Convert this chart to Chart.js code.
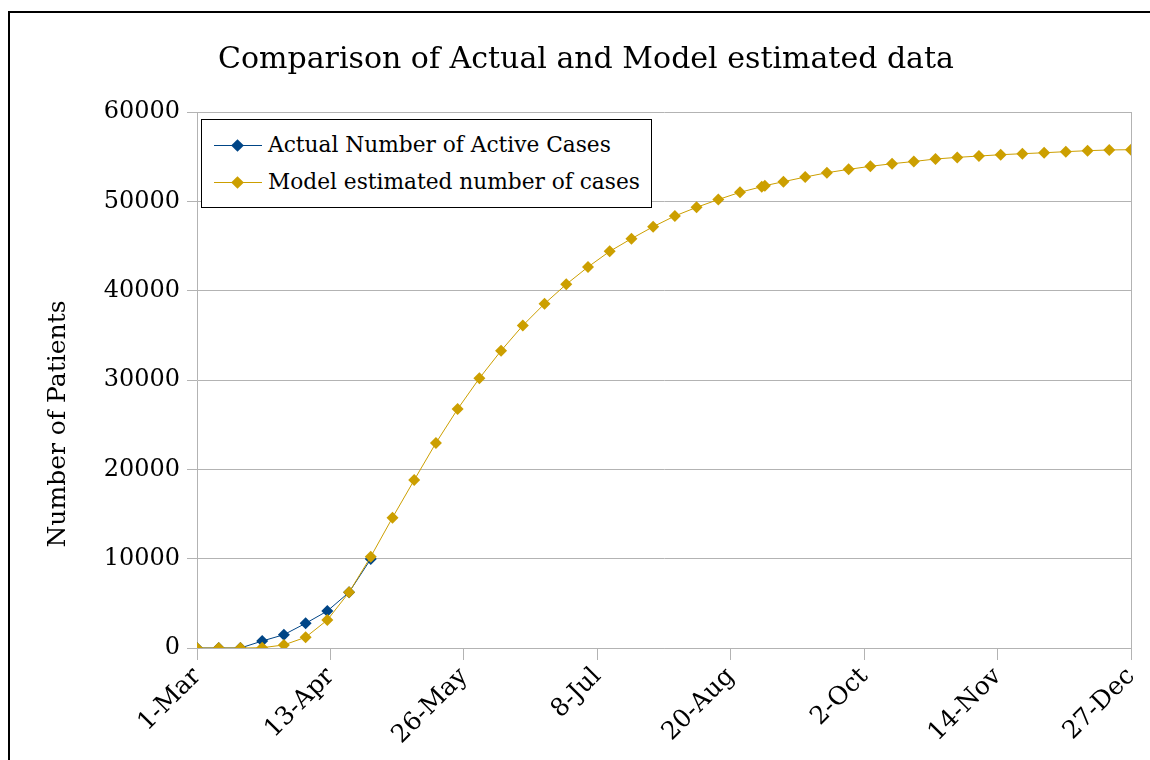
<!DOCTYPE html>
<html>
<head>
<meta charset="utf-8">
<script src="https://cdn.jsdelivr.net/npm/chart.js@4.4.0/dist/chart.umd.min.js"></script>
<style>
  body { margin: 0; background: #fff; overflow: hidden; width: 1150px; height: 760px; }
  #frame {
    position: absolute; left: 8px; top: 11px; width: 1160px; height: 780px;
    border: 2px solid #000; box-sizing: border-box;
  }
  #wrap { position: absolute; left: 41px; top: 13px; width: 1121px; height: 747px; }
  #legend {
    position: absolute; left: 201px; top: 119px; width: 451px; height: 89px;
    border: 1px solid #000; background: #fff; box-sizing: border-box;
    font-family: "DejaVu Serif", serif; font-size: 21.7px; color: #000;
  }
  .item { position: absolute; left: 12px; height: 30px; white-space: nowrap; }
  .item .ln { position: absolute; left: 0; top: 14px; width: 48px; height: 1px; }
  .item .mk { position: absolute; left: 19px; top: 10px; width: 9px; height: 9px; transform: rotate(45deg); }
  .item .tx { position: absolute; left: 54px; top: 0; line-height: 28px; }
</style>
</head>
<body>
<div id="frame"></div>
<div id="wrap"><canvas id="chart"></canvas></div>
<div id="legend"></div>
<script>
// days since 1-Mar (weekly, plus one extra point on day 183)
const dayIndex = [0, 7, 14, 21, 28, 35, 42, 49, 56, 63, 70, 77, 84, 91, 98, 105, 112, 119, 126, 133,
  140, 147, 154, 161, 168, 175, 182, 183, 189, 196, 203, 210, 217, 224, 231, 238, 245, 252, 259,
  266, 273, 280, 287, 294, 301];

const actualCases = [0, 0, 0, 780, 1490, 2760, 4140, 6230, 9960];

const modelCases = [0, 0, 0, 30, 340, 1200, 3130, 6230, 10220, 14590, 18800, 22950, 26750, 30190,
  33280, 36100, 38540, 40710, 42650, 44400, 45820, 47160, 48360, 49330, 50200, 51010, 51640, 51750,
  52200, 52720, 53200, 53580, 53920, 54210, 54460, 54740, 54920, 55070, 55220, 55330, 55440, 55560,
  55670, 55750, 55780];

const tickLabels = ["1-Mar", "13-Apr", "26-May", "8-Jul", "20-Aug", "2-Oct", "14-Nov", "27-Dec"];
const tickStep = 43;

const blue = "#004586";
const gold = "#cc9f00";
const gridGrey = "#b3b3b3";
const serif = "'DejaVu Serif', serif";

const seriesNames = ["Actual Number of Active Cases", "Model estimated number of cases"];

// y axis title drawn centred a bit lower than the plot, like the original
const yTitlePlugin = {
  id: "yTitle",
  afterDraw(chart) {
    const ctx = chart.ctx;
    const area = chart.chartArea;
    ctx.save();
    ctx.font = "25px " + serif;
    ctx.fillStyle = "#000";
    ctx.textAlign = "center";
    ctx.textBaseline = "middle";
    ctx.translate(17, (area.top + area.bottom) / 2 + 44);
    ctx.rotate(-Math.PI / 2);
    ctx.fillText("Number of Patients", 0, 0);
    ctx.restore();
  },
};

const ctx = document.getElementById("chart").getContext("2d");
const chart = new Chart(ctx, {
  type: "line",
  data: {
    datasets: [
      {
        label: seriesNames[0],
        data: actualCases.map((v, i) => ({ x: dayIndex[i], y: v })),
        borderColor: blue,
        backgroundColor: blue,
        borderWidth: 1,
        pointStyle: "rectRot",
        pointRadius: 6,
        pointHoverRadius: 6,
        pointBorderWidth: 0,
        tension: 0,
        order: 1,
      },
      {
        label: seriesNames[1],
        data: modelCases.map((v, i) => ({ x: dayIndex[i], y: v })),
        borderColor: gold,
        backgroundColor: gold,
        borderWidth: 1,
        pointStyle: "rectRot",
        pointRadius: 6,
        pointHoverRadius: 6,
        pointBorderWidth: 0,
        tension: 0,
        order: 0,
      },
    ],
  },
  options: {
    responsive: true,
    maintainAspectRatio: false,
    animation: false,
    layout: {
      padding: { left: 0, right: 31, top: 0, bottom: 0 },
    },
    plugins: {
      legend: { display: false },
      tooltip: { enabled: false },
      title: {
        display: true,
        text: "Comparison of Actual and Model estimated data",
        color: "#000",
        font: { family: serif, size: 30, weight: "normal", lineHeight: 1.2 },
        padding: { top: 29, bottom: 34 },
      },
    },
    scales: {
      x: {
        type: "linear",
        min: 0,
        max: tickStep * (tickLabels.length - 1),
        afterFit: (s) => { s.height = 112; },
        border: { color: gridGrey },
        grid: {
          color: (c) => (c.index === tickLabels.length - 1 ? gridGrey : "transparent"),
          tickColor: gridGrey,
          tickLength: 12,
        },
        ticks: {
          stepSize: tickStep,
          autoSkip: false,
          maxRotation: 45,
          minRotation: 45,
          padding: 2,
          color: "#000",
          font: { family: serif, size: 25 },
          callback: (v) => tickLabels[Math.round(v / tickStep)],
        },
      },
      y: {
        min: 0,
        max: 60000,
        afterFit: (s) => { s.width = 156; },
        border: { color: gridGrey },
        grid: { color: gridGrey, tickLength: 10 },
        ticks: {
          stepSize: 10000,
          padding: 7,
          color: "#000",
          font: { family: serif, size: 24 },
          callback: (v) => String(v),
        },
      },
    },
  },
  plugins: [yTitlePlugin],
});

// legend box built from the datasets
const legend = document.getElementById("legend");
chart.data.datasets.forEach((ds, i) => {
  const item = document.createElement("div");
  item.className = "item";
  item.style.top = (11 + i * 37) + "px";
  item.innerHTML =
    '<span class="ln" style="background:' + ds.borderColor + '"></span>' +
    '<span class="mk" style="background:' + ds.borderColor + '"></span>' +
    '<span class="tx">' + ds.label + "</span>";
  legend.appendChild(item);
});
</script>
</body>
</html>
